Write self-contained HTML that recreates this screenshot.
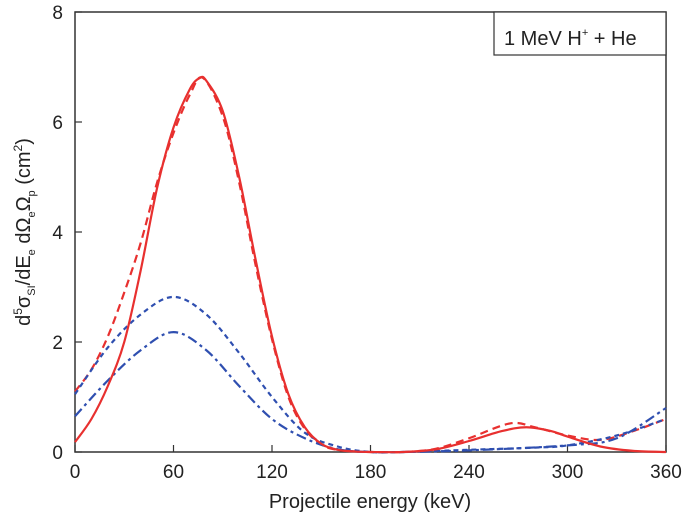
<!DOCTYPE html>
<html><head><meta charset="utf-8"><style>
body{margin:0;background:#fff;font-family:"Liberation Sans",sans-serif;}
svg{display:block}
text{font-family:"Liberation Sans",sans-serif;fill:#222}
</style></head><body>
<svg id="chart" width="685" height="521" viewBox="0 0 685 521">
<rect x="75" y="12" width="591" height="440" fill="none" stroke="#333" stroke-width="1.5"/>
<g id="ticks"></g>
<g id="series"></g>
<g>
<rect x="494" y="12" width="172" height="43" fill="#fff" stroke="#333" stroke-width="1.2"/>
<text x="504" y="45" font-size="20">1 MeV H<tspan font-size="11" dy="-9">+</tspan><tspan dy="9"> + He</tspan></text>
</g>
<text x="370" y="508" font-size="20" text-anchor="middle">Projectile energy (keV)</text>
<text transform="translate(30,232) rotate(-90)" font-size="20" text-anchor="middle">d<tspan font-size="12" dy="-8">5</tspan><tspan dy="8">σ</tspan><tspan font-size="11" dy="5">SI</tspan><tspan dy="-5">/dE</tspan><tspan font-size="11" dy="5">e</tspan><tspan dy="-5"> dΩ</tspan><tspan font-size="11" dy="5">e</tspan><tspan dy="-5">Ω</tspan><tspan font-size="11" dy="5">p</tspan><tspan dy="-5"> (cm</tspan><tspan font-size="12" dy="-8">2</tspan><tspan dy="8">)</tspan></text>
</svg>
<script>
const xTicks=[0,60,120,180,240,300,360];
const yTicks=[0,2,4,6,8];
const redSolidX=[0,10,20,30,40,50,60,70,76,80,90,100,110,120,130,140,150,160,170,180,200,220,240,260,275,290,300,320,340,360];
const redSolidY=[0.18,0.6,1.2,2.0,3.3,4.8,5.9,6.6,6.8,6.75,6.2,5.0,3.5,2.1,1.05,0.45,0.15,0.04,0.01,0,0,0.05,0.2,0.38,0.45,0.38,0.28,0.1,0.02,0];
const redDashX=[0,10,20,30,40,50,60,70,78,90,100,110,120,130,140,150,160,180,200,220,240,265,280,300,320,340,360];
const redDashY=[1.1,1.5,2.1,2.9,3.8,4.9,5.8,6.5,6.8,6.1,4.9,3.4,2.05,1.0,0.42,0.14,0.04,0,0,0.06,0.25,0.52,0.45,0.3,0.22,0.38,0.6];
const blueDashX=[0,20,40,60,80,100,120,140,160,180,200,240,280,300,330,360];
const blueDashY=[1.05,1.9,2.5,2.82,2.5,1.8,1.0,0.35,0.1,0,0,0.04,0.08,0.12,0.3,0.6];
const blueDotDashX=[0,20,40,60,80,100,120,140,160,180,200,240,300,330,360];
const blueDotDashY=[0.65,1.3,1.85,2.18,1.85,1.2,0.6,0.25,0.05,0,0,0.03,0.12,0.25,0.8];
const X0=75,X1=666,Y0=452,Y1=12;
const sx=v=>X0+(v-0)/(360-0)*(X1-X0);
const sy=v=>Y0-(v-0)/(8-0)*(Y0-Y1);
const NS='http://www.w3.org/2000/svg';
const tg=document.getElementById('ticks');
function mk(tag,attrs,parent){const e=document.createElementNS(NS,tag);for(const k in attrs)e.setAttribute(k,attrs[k]);parent.appendChild(e);return e;}
xTicks.forEach(t=>{
 const l=mk('line',{x1:sx(t),x2:sx(t),y1:Y0,y2:Y0-7,stroke:'#333','stroke-width':1.2},tg);
 
 
 const tx=mk('text',{x:sx(t),y:Y0+26,'font-size':19,'text-anchor':'middle'},tg);
 tx.textContent=t;
 
 
});
yTicks.forEach(t=>{
 const l=mk('line',{x1:X0,x2:X0+7,y1:sy(t),y2:sy(t),stroke:'#333','stroke-width':1.2},tg);
 
 
 const tx=mk('text',{x:X0-12,y:sy(t)+7,'font-size':19,'text-anchor':'end'},tg);
 tx.textContent=t;
 
 
});
function path(xs,ys){
 const p=xs.map((x,i)=>[sx(x),sy(ys[i])]);
 let d='M'+p[0][0]+','+p[0][1];
 for(let i=0;i<p.length-1;i++){
  const a=p[Math.max(0,i-1)],b=p[i],c=p[i+1],e=p[Math.min(p.length-1,i+2)];
  const c1=[b[0]+(c[0]-a[0])/6,b[1]+(c[1]-a[1])/6],c2=[c[0]-(e[0]-b[0])/6,c[1]-(e[1]-b[1])/6];
  d+=' C'+c1+' '+c2+' '+c;
 }
 return d;
}
const sg=document.getElementById('series');
const defs=[
 [redDashX,redDashY,'#e8302f','8,5','red-dashed-curve'],
 [blueDashX,blueDashY,'#2f4fb0','5,4','blue-dashed-curve'],
 [blueDotDashX,blueDotDashY,'#2f4fb0','10,4,3,4','blue-dashdot-curve'],
 [redSolidX,redSolidY,'#e8302f','none','red-solid-curve']
];
defs.forEach(s=>{
 const e=mk('path',{d:path(s[0],s[1]),fill:'none',stroke:s[2],'stroke-width':2.2,'stroke-dasharray':s[3]},sg);
 
 
});
</script>
</body></html>
